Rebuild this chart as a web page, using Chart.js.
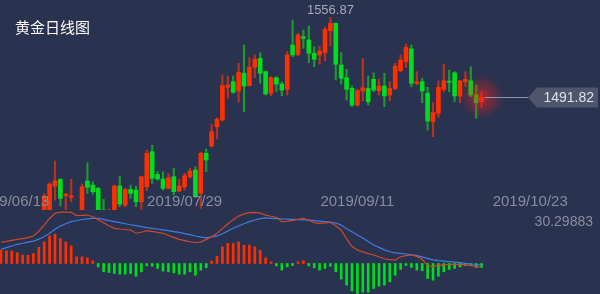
<!DOCTYPE html>
<html>
<head>
<meta charset="utf-8">
<script src="https://cdn.jsdelivr.net/npm/chart.js@4"></script>
<style>
  html, body { margin: 0; padding: 0; background: #29324f; }
  #wrap { width: 600px; height: 294px; position: relative; }
</style>
</head>
<body>
<div id="wrap"><canvas id="kline" width="600" height="294"></canvas></div>
<script>
// 日K数据 (index 0 = 2019/06/11)
const opens = [1326, 1328, 1334, 1342, 1341, 1339, 1346, 1359, 1390, 1398,
  1419.5, 1425, 1411.8, 1410.3, 1395, 1397, 1423.6, 1420.3, 1417.6, 1400,
  1393, 1398, 1419.5, 1404, 1416.8, 1416.2, 1406.7, 1418.9, 1447.5, 1429,
  1425.2, 1417.6, 1427.1, 1415.4, 1418.9, 1427.1, 1432.5, 1413.6, 1446.2, 1452.1,
  1467.8, 1473.3, 1500, 1504.5, 1496.9, 1511.4, 1501.3, 1516.3, 1523.6, 1512.7,
  1495.1, 1507.8, 1502.6, 1498.3, 1534.4, 1526.8, 1541.2, 1538.5, 1527.7, 1526.3,
  1528.2, 1546.1, 1552.1, 1518.1, 1507.8, 1499.1, 1485.5, 1496.9, 1499.1, 1506.5,
  1497.2, 1501, 1493.7, 1499.1, 1513.5, 1520.8, 1531.2, 1503.2, 1504.5, 1495.1,
  1471.9, 1478.8, 1498.3, 1505, 1511.8, 1492.9, 1504.5, 1505.3, 1493.7, 1488.2];
const highs = [1331, 1336, 1346, 1358, 1345, 1353, 1362, 1394, 1413.5, 1422.2,
  1439.9, 1425.5, 1413.5, 1425, 1397, 1421.1, 1438.5, 1423, 1418.5, 1408.7,
  1400.8, 1420.3, 1427.7, 1417.6, 1420.3, 1419.5, 1427.7, 1448.9, 1452.9, 1431.2,
  1431.2, 1429.9, 1433.9, 1425, 1429.9, 1433.9, 1435.2, 1447, 1449.7, 1470,
  1475.2, 1510, 1509.2, 1509.2, 1519.5, 1534.4, 1524.1, 1526.3, 1528.2, 1513.2,
  1508.6, 1508.6, 1504.5, 1529, 1554.8, 1544, 1546.6, 1549.9, 1533, 1533.6,
  1548.9, 1556.87, 1552.5, 1528.2, 1514.6, 1501, 1498.3, 1523.6, 1509.2, 1511.8,
  1506.7, 1511.4, 1504.5, 1519.5, 1526.3, 1535.3, 1534.4, 1512.7, 1507.3, 1500,
  1487.4, 1505.3, 1518.9, 1514, 1512.7, 1505.6, 1512.7, 1516.7, 1501.8, 1496.4];
const lows = [1322, 1325, 1332, 1338, 1336, 1337, 1342, 1356, 1385, 1395,
  1408.1, 1403.2, 1397, 1406.7, 1381, 1394, 1413.6, 1413, 1394, 1392,
  1390, 1395, 1402.6, 1402.6, 1409.5, 1402.6, 1400.5, 1415.7, 1421.7, 1424.4,
  1416.2, 1417.1, 1412.2, 1414.9, 1416.2, 1425.8, 1410, 1401.3, 1431.2, 1451.5,
  1457.8, 1472.5, 1491, 1495.1, 1487.7, 1480.1, 1501, 1507.8, 1503.2, 1493.7,
  1493.1, 1496.4, 1493.1, 1493.7, 1524.9, 1525.5, 1531.7, 1520, 1516.7, 1518.9,
  1521.6, 1533.6, 1505.9, 1502.6, 1489.6, 1484.1, 1484.7, 1489, 1485.5, 1496.4,
  1493.7, 1484.1, 1489, 1497.7, 1512.7, 1516.2, 1500.4, 1501.8, 1487.4, 1465.1,
  1459.7, 1475.5, 1496.4, 1496.4, 1488.2, 1487.4, 1500.4, 1492.3, 1474.7, 1483.6];
const closes = [1328, 1334, 1342, 1341, 1339, 1346, 1359, 1388, 1411.4, 1421.1,
  1423.8, 1409.5, 1413, 1411.6, 1386, 1418.9, 1418.5, 1414.9, 1398, 1396,
  1399, 1419.5, 1404.8, 1416.8, 1413.5, 1406.7, 1427.1, 1446.2, 1425.8, 1425.2,
  1417.6, 1426.3, 1414.9, 1419.5, 1427.9, 1431.7, 1410.8, 1446.2, 1440.7, 1463.8,
  1473.9, 1501.3, 1501.8, 1495.9, 1512.2, 1501, 1516.3, 1522.8, 1511.4, 1494.5,
  1507.8, 1502.6, 1497.7, 1526.3, 1526.3, 1542.6, 1539.9, 1527.7, 1522.8, 1529.5,
  1547.2, 1552.1, 1518.7, 1507.3, 1498.3, 1485.5, 1497.2, 1499.6, 1488.2, 1497.7,
  1501, 1492.9, 1499.1, 1517.3, 1522.2, 1532.5, 1503.2, 1504.5, 1496.9, 1472.5,
  1479.3, 1500, 1505.3, 1504, 1492.9, 1505.3, 1506.5, 1493.7, 1487.4, 1491.82];

// MACD
const dif = [12.5, 13, 13.6, 14.2, 14.6, 15.2, 16.2, 19, 22.6, 26.5,
  29.5, 30.2, 30.3, 30.1, 28.2, 28.3, 28.5, 27.5, 25.8, 24,
  22.2, 20.7, 20.3, 20, 19.7, 17.8, 18.4, 19.3, 18.9, 18.3,
  17.8, 16.5, 15.4, 14.2, 13.5, 12.8, 12.2, 12.6, 14.2, 15.8,
  17.8, 20.5, 23.2, 25.8, 27.9, 29.2, 29.9, 30.1, 29.6, 28.5,
  27.8, 27.2, 24.6, 24.8, 25.4, 26, 26.6, 25.5, 24, 23.6,
  23.9, 24.2, 22.2, 19.7, 14.5, 10, 7.9, 6.8, 5.8, 5,
  4, 2.8, 2.3, 2.1, 4, 4.6, 5, 4.2, 2.5, -1.2,
  -1.8, -0.9, -0.8, -0.6, -0.5, -0.5, -0.8, -1.3, -1.8, -2.2];
const dea = [8.3, 9.3, 10.3, 11.3, 11.9, 12.6, 13.2, 14.3, 15.9, 17.8,
  20.2, 22, 23.4, 24.6, 25.3, 25.9, 26.3, 26.5, 26.6, 26,
  25.2, 24.6, 24, 23.4, 22.8, 22.3, 21.7, 21.1, 20.7, 20.3,
  19.8, 19.3, 18.8, 18.3, 17.6, 17, 16.2, 15.5, 15.2, 15.6,
  16.2, 17.5, 19.1, 20.7, 22.1, 23.4, 24.6, 25.6, 26.4, 26.8,
  26.6, 26.4, 26.2, 26.1, 26, 25.8, 25.7, 25.5, 25.2, 24.9,
  24.6, 24.4, 23.8, 22.6, 20.5, 18.7, 16.8, 15, 13, 10.9,
  9.5, 8, 6.9, 6.3, 6, 5.6, 5.2, 4.6, 3.9, 3,
  2.1, 1.7, 1.4, 1.1, 0.8, 0.5, 0.1, -0.3, -0.6, -0.9];
const macdHist = [7.8, 7.5, 7.3, 6.3, 4.9, 4.9, 5.9, 9.6, 12.7, 16.3,
  17.3, 14.7, 12.7, 10.4, 3.9, 3.9, 3.3, 1.6, -2.0, -4.9,
  -5.3, -5.9, -6.3, -6.3, -5.9, -7.5, -4.9, -1.4, -1.6, -2.9,
  -4.5, -4.9, -5.5, -6.3, -6.3, -4.9, -6.9, -3.9, -2.5, 1.4,
  4.3, 9.8, 11.8, 11.8, 12.7, 10.8, 10.8, 9.8, 7.8, 3.3,
  1.0, -1.4, -3.9, -2.0, -1.2, 1.0, 1.6, -1.4, -2.5, -3.9,
  -2.9, -1.6, -4.9, -9.2, -12.7, -16.1, -17.6, -16.9, -16.9, -14.7,
  -13.3, -12.7, -10.8, -6.9, -3.5, -1.2, -2.3, -3.9, -4.3, -8.8,
  -9.8, -7.5, -4.9, -3.5, -2.9, -2.0, -1.2, -0.6, -2.3, -2.3];
const macdMaxLabel = '30.29883';

// x轴标签
const tickIdx = [2, 34, 66, 98];
const tickLabels = ['2019/06/13', '2019/07/29', '2019/09/11', '2019/10/23'];

const title = '黄金日线图';

const BG = '#29324f';
const UP = '#ff3000', DOWN = '#00dc1e';
const UP_WICK = '#b8321f', DOWN_WICK = '#1d9a2e';
const priceClip = { left: 0, top: 0, right: 0, bottom: -84 };

const idx = closes.map((c, i) => i);
const isUp = i => closes[i] >= opens[i];

const overlay = {
  id: 'overlay',
  beforeDraw(chart) {
    const ctx = chart.ctx;
    ctx.save();
    ctx.fillStyle = BG;
    ctx.fillRect(0, 0, chart.width, chart.height);
    ctx.restore();
  },
  afterDatasetsDraw(chart) {
    const { ctx, scales: { x, y } } = chart;
    const last = closes.length - 1;
    const lx = x.getPixelForValue(last);
    const ly = y.getPixelForValue(closes[last]);
    ctx.save();

    // 最新价光晕
    const g = ctx.createRadialGradient(lx, ly, 0, lx, ly, 22);
    g.addColorStop(0, 'rgba(255,30,30,0.6)');
    g.addColorStop(1, 'rgba(255,30,30,0)');
    ctx.fillStyle = g;
    ctx.beginPath();
    ctx.arc(lx, ly, 22, 0, Math.PI * 2);
    ctx.fill();

    // 最新价标签
    const py = Math.round(ly) + 0.5;
    ctx.strokeStyle = '#8f96aa';
    ctx.lineWidth = 1;
    ctx.beginPath();
    ctx.moveTo(lx + 3, py);
    ctx.lineTo(528, py);
    ctx.stroke();
    ctx.fillStyle = '#4e566d';
    ctx.beginPath();
    ctx.moveTo(528, py);
    ctx.lineTo(537, py - 10);
    ctx.lineTo(598, py - 10);
    ctx.lineTo(598, py + 10);
    ctx.lineTo(537, py + 10);
    ctx.closePath();
    ctx.fill();
    ctx.fillStyle = '#dde0e6';
    ctx.font = '14px "Liberation Sans", Arial, sans-serif';
    ctx.textAlign = 'right';
    ctx.textBaseline = 'middle';
    ctx.fillText(closes[last].toFixed(2), 594, py + 0.5);

    // 最高价
    const hi = Math.max(...highs);
    const hiIdx = highs.indexOf(hi);
    ctx.fillStyle = '#a4aab8';
    ctx.font = '13px "Liberation Sans", Arial, sans-serif';
    ctx.textAlign = 'center';
    ctx.textBaseline = 'bottom';
    ctx.fillText(hi.toFixed(2), x.getPixelForValue(hiIdx), y.getPixelForValue(hi) - 1);

    // 日期
    ctx.fillStyle = '#878ea0';
    ctx.font = '15px "Liberation Sans", Arial, sans-serif';
    ctx.textBaseline = 'middle';
    tickIdx.forEach((k, i) => {
      ctx.fillText(tickLabels[i], x.getPixelForValue(k), 202);
    });

    // MACD 最大值
    ctx.font = '14px "Liberation Sans", Arial, sans-serif';
    ctx.textAlign = 'right';
    ctx.fillText(macdMaxLabel, 593, 222);

    // 标题
    ctx.fillStyle = '#ffffff';
    ctx.font = '15px "Noto Sans CJK SC", sans-serif';
    ctx.textAlign = 'left';
    ctx.fillText(title, 15, 27.5);
    ctx.restore();
  }
};

new Chart(document.getElementById('kline'), {
  data: {
    datasets: [
      {
        type: 'bar',
        data: idx.map(i => ({ x: i, y: [opens[i], closes[i]] })),
        backgroundColor: idx.map(i => isUp(i) ? UP : DOWN),
        barThickness: 4,
        minBarLength: 1,
        grouped: false,
        yAxisID: 'y',
        clip: priceClip,
        order: 1
      },
      {
        type: 'bar',
        data: idx.map(i => ({ x: i, y: [lows[i], highs[i]] })),
        backgroundColor: idx.map(i => isUp(i) ? UP_WICK : DOWN_WICK),
        barThickness: 1.5,
        grouped: false,
        yAxisID: 'y',
        clip: priceClip,
        order: 2
      },
      {
        type: 'line',
        data: idx.map(i => ({ x: i, y: dif[i] })),
        borderColor: '#d0482c',
        borderWidth: 1.2,
        pointRadius: 0,
        yAxisID: 'y2',
        order: 3
      },
      {
        type: 'line',
        data: idx.map(i => ({ x: i, y: dea[i] })),
        borderColor: '#3f7de0',
        borderWidth: 1.2,
        pointRadius: 0,
        yAxisID: 'y2',
        order: 4
      },
      {
        type: 'bar',
        data: idx.map(i => ({ x: i, y: macdHist[i] })),
        backgroundColor: macdHist.map(v => v >= 0 ? UP : DOWN),
        barThickness: 2,
        grouped: false,
        yAxisID: 'y2',
        order: 5
      }
    ]
  },
  options: {
    responsive: false,
    animation: false,
    events: [],
    layout: { padding: 0 },
    scales: {
      x: { type: 'linear', min: -0.185, max: 110.926, offset: false, display: false },
      y: { type: 'linear', min: 1331.54, max: 1571.1, display: false },
      y2: { type: 'linear', min: -17.94, max: 155, display: false }
    },
    plugins: {
      legend: { display: false },
      tooltip: { enabled: false }
    }
  },
  plugins: [overlay]
});
</script>
</body>
</html>
